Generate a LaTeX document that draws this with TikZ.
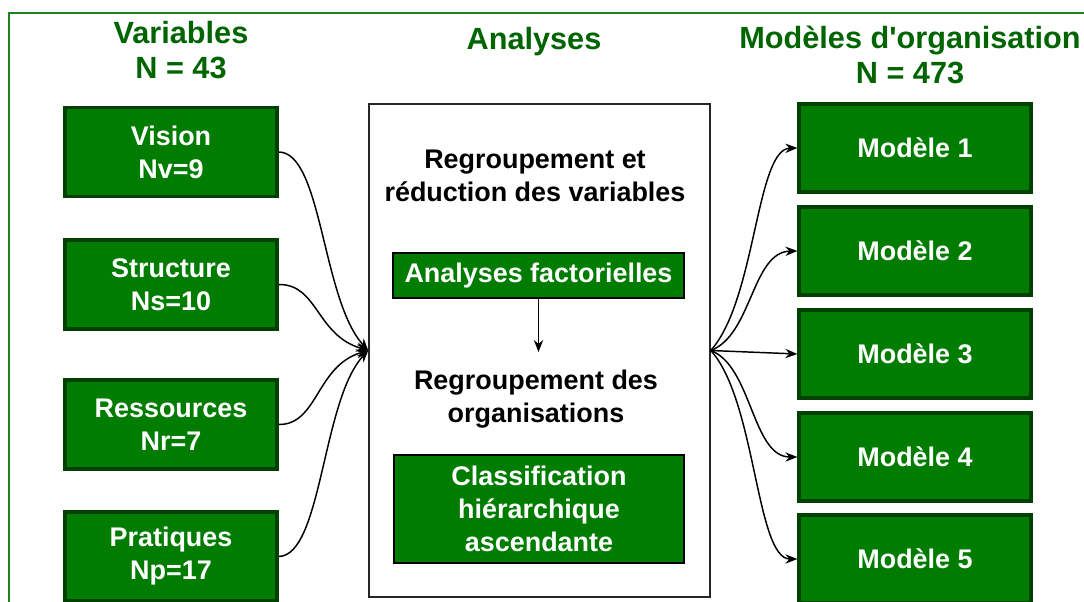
\documentclass[tikz,border=0pt]{standalone}
\usepackage{fontspec}
\setmainfont{Liberation Sans}
\usetikzlibrary{arrows.meta}
\definecolor{boxgreen}{RGB}{0,125,0}
\definecolor{darkline}{RGB}{0,64,0}
\definecolor{titlegreen}{RGB}{0,100,0}
\definecolor{framegreen}{RGB}{30,130,30}
\tikzset{
  greenbox/.style={draw=darkline, line width=2.4pt, fill=boxgreen, text=white,
    font=\fontsize{20.2}{24.75}\selectfont\bfseries, align=center, inner sep=0pt},
  leftbox/.style={greenbox, minimum width=159pt, minimum height=66.75pt},
  rightbox/.style={greenbox, minimum width=174pt, minimum height=66pt},
  innerbox/.style={draw=black, line width=0.8pt, fill=boxgreen, text=white,
    font=\fontsize{20.2}{24.75}\selectfont\bfseries, align=center, inner sep=0pt},
  titletext/.style={text=titlegreen, font=\fontsize{23}{26.25}\selectfont\bfseries, align=center},
  bodytext/.style={text=black, font=\fontsize{20.2}{24.75}\selectfont\bfseries, align=center},
  conn/.style={line width=1.1pt, -{Stealth[length=9pt,width=7pt]}},
}
\begin{document}
\begin{tikzpicture}[x=0.75pt,y=-0.75pt]
\useasboundingbox (0,0) rectangle (1084,602);
\clip (0,0) rectangle (1084,602);
% frame
\draw[framegreen, line width=1.3pt] (9,610) -- (9,13) -- (1090,13);
% titles
\node[titletext] (tvar) at (181,50) {Variables\\N = 43};
\node[titletext] (tana) at (534,42) {Analyses};
\node[titletext] (tmod) at (910,55) {Modèles d\textquotesingle organisation\\N = 473};
% left boxes
\node[leftbox] (vis) at (171,152) {Vision\\Nv=9};
\node[leftbox] (str) at (171,284.5) {Structure\\Ns=10};
\node[leftbox] (res) at (171,424.5) {Ressources\\Nr=7};
\node[leftbox] (pra) at (171,556.5) {Pratiques\\Np=17};
% center box
\node[draw=black!85, line width=1.1pt, fill=white, minimum width=255.75pt, minimum height=369.75pt, inner sep=0pt] (ctr) at (539.5,350.5) {};
\node[bodytext] (t1) at (535,176) {Regroupement et\\réduction des variables};
\node[innerbox, minimum width=218.25pt, minimum height=33.75pt] (af) at (538.5,275.5) {Analyses factorielles};
\node[bodytext] (t2) at (536,399) {Regroupement des\\organisations};
\node[innerbox, minimum width=217.5pt, minimum height=81pt] (cla) at (539,509) {Classification\\hiérarchique\\ascendante};
\coordinate (afend) at (538.5,352);
\draw[conn] (af.south) -- (afend);
% right boxes
\node[rightbox] (m1) at (915,148) {Modèle 1};
\node[rightbox] (m2) at (915,251) {Modèle 2};
\node[rightbox] (m3) at (915,354) {Modèle 3};
\node[rightbox] (m4) at (915,457) {Modèle 4};
\node[rightbox] (m5) at (915,559) {Modèle 5};
% left connectors
\draw[conn] (vis.east) .. controls (322,152) and (322,300) .. (ctr.west);
\draw[conn] (str.east) .. controls (318,284) and (316,335) .. (ctr.west);
\draw[conn] (res.east) .. controls (318,425) and (316,366) .. (ctr.west);
\draw[conn] (pra.east) .. controls (322,556) and (322,400) .. (ctr.west);
% right connectors
\draw[conn] (ctr.east) .. controls (756,300) and (756,149) .. (m1.west);
\draw[conn] (ctr.east) .. controls (752,335) and (752,252) .. (m2.west);
\draw[conn] (ctr.east) -- (m3.west);
\draw[conn] (ctr.east) .. controls (752,366) and (752,457) .. (m4.west);
\draw[conn] (ctr.east) .. controls (756,400) and (756,559) .. (m5.west);
\end{tikzpicture}
\end{document}
